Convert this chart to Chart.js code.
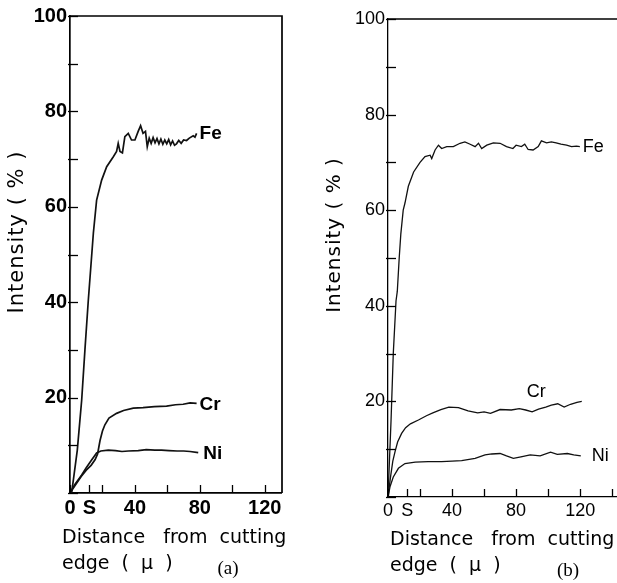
<!DOCTYPE html>
<html>
<head>
<meta charset="utf-8">
<script src="https://cdn.jsdelivr.net/npm/chart.js@4.4.0/dist/chart.umd.min.js"></script>
<style>
    html, body { margin: 0; padding: 0; background: #fff; overflow: hidden; width: 617px; height: 583px; position: relative; }
    canvas { position: absolute; top: 0; }
    #chartA { left: 0; }
    #chartB { left: 310px; }
</style>
</head>
<body>
<canvas id="chartA" width="300" height="583"></canvas>
<canvas id="chartB" width="330" height="583"></canvas>
<script>
// Panel (a) data - distance (micron) / intensity (%)
const feDistA = [1, 4.5, 7.2, 9.2, 11.3, 14.4, 16.4, 19.5, 22.6, 26.7, 28.7, 29.7, 30.8, 32.3, 33.8, 35.9, 37.9, 40, 42, 43.5, 45, 46.5, 47.6, 48.8, 50, 51.2, 52.4, 53.6, 54.8, 56, 57.2, 58.4, 59.6, 60.8, 62, 63.2, 64.4, 65.6, 67, 68.5, 70, 71.8, 73.5, 75.9, 77, 78];
const feIntA = [0, 9, 19.5, 30, 40.5, 54.5, 61.4, 65.6, 68.4, 70.5, 71.6, 73.3, 71.6, 71.3, 74.7, 75.4, 74, 74, 75.8, 77, 75.4, 75.8, 72.6, 74.4, 73.3, 74.5, 73.4, 74.3, 73.2, 74.2, 73.1, 74.0, 73.2, 74.1, 73.0, 73.8, 72.9, 73.2, 73.9, 73.3, 74, 73.9, 74.4, 74.9, 74.6, 75.4];
const crDistA = [0, 3, 7, 10, 13, 15.5, 17, 18.5, 20, 21.5, 24, 28.7, 33, 39, 45, 52, 59.5, 65, 69.7, 74, 78];
const crIntA = [0, 1.5, 3.5, 4.8, 5.8, 7, 8.2, 11, 13, 14.3, 15.7, 16.7, 17.3, 17.8, 17.9, 18.1, 18.2, 18.5, 18.6, 18.9, 18.8];
const niDistA = [0, 3, 7.2, 10, 13.3, 16.4, 19, 23.6, 28, 32, 36, 42, 47, 52.3, 56.4, 61, 66, 70, 74, 79];
const niIntA = [0, 1.8, 3.8, 5.3, 6.9, 8.4, 8.8, 9.0, 8.9, 8.7, 8.8, 8.9, 9.1, 9.0, 9.0, 8.9, 8.8, 8.8, 8.7, 8.45];

// Panel (b) data
const feDistB = [0, 1.9, 3.3, 5, 5.8, 7, 8, 9.5, 10.6, 12.7, 16, 20, 23.1, 26.3, 27.3, 29.4, 31.5, 33.5, 36.7, 40.8, 45, 48, 51.3, 54.4, 56.5, 58.5, 61.7, 65.8, 70, 74, 78, 80, 83.3, 85.4, 87.5, 90.6, 93.8, 95.8, 99, 102, 105, 108, 111.5, 114.6, 117.7, 119.8];
const feIntB = [0, 16, 30, 41, 43, 50, 55, 60, 61.5, 65, 68, 70, 71.2, 71.5, 70.8, 72.6, 73.6, 72.9, 73.3, 73.3, 74, 74.3, 73.8, 73.3, 74, 72.9, 73.6, 74.1, 74, 73.3, 72.9, 73.6, 73.3, 73.8, 72.7, 72.6, 73.3, 74.5, 74.1, 74.3, 74.1, 73.8, 73.6, 73.3, 73.4, 73.3];
const crDistB = [0, 1.5, 3, 4.4, 6, 8.5, 11, 14, 19, 24, 28, 33, 38, 44, 50, 56, 60, 64, 70, 77, 82, 86, 90, 94, 98.5, 102, 106, 110, 114, 118, 121];
const crIntB = [0, 4, 7.5, 9.5, 11.5, 13.3, 14.5, 15.3, 16.1, 17, 17.6, 18.3, 18.8, 18.7, 18, 17.6, 17.8, 17.5, 18.3, 18.2, 18.5, 18.2, 17.8, 18.4, 18.8, 19.2, 19.5, 18.8, 19.4, 19.8, 20];
const niDistB = [0, 1.3, 3.3, 6.5, 10.6, 17, 25, 33.5, 40, 46, 54.4, 60.6, 64.8, 70, 74, 78.3, 83, 88.8, 95, 101.5, 105.7, 112, 116, 120.4];
const niIntB = [0, 2.2, 4.2, 6, 7, 7.3, 7.4, 7.4, 7.5, 7.6, 8.1, 8.8, 9.0, 9.1, 8.6, 8.1, 8.4, 8.8, 8.6, 9.4, 8.9, 9.1, 8.8, 8.6];

// Axis ticks
const yTickValues = [0, 10, 20, 30, 40, 50, 60, 70, 80, 90, 100];
const yTickLabels = ['', '', '20', '', '40', '', '60', '', '80', '', '100'];
const xTickValuesA = [0, 12, 20, 40, 60, 80, 100, 120];
const xTickLabelsA = ['0', 'S', '', '40', '', '80', '', '120'];
const xTickValuesB = [0, 12, 20, 40, 60, 80, 100, 120, 140];
const xTickLabelsB = ['0', 'S', '', '40', '', '80', '', '120', ''];

const toPoints = (d, v) => d.map((x, i) => ({ x: x, y: v[i] }));

// Draws the frame, inner tick marks, series names and axis titles
const panelDecor = {
    id: 'panelDecor',
    afterDraw(chart, args, opts) {
        const { ctx, chartArea: a, scales: { x, y } } = chart;
        ctx.save();
        ctx.strokeStyle = '#000';
        ctx.lineWidth = opts.frameWidth;
        ctx.beginPath();
        ctx.moveTo(a.left, a.top);
        ctx.lineTo(a.right + 1, a.top);
        if (opts.rightBorder) ctx.lineTo(a.right + 1, a.bottom);
        ctx.stroke();

        ctx.lineWidth = 1.3;
        y.ticks.forEach(t => {
            const py = Math.round(y.getPixelForValue(t.value)) + 0.5;
            ctx.beginPath(); ctx.moveTo(a.left - 2, py); ctx.lineTo(a.left + 8, py); ctx.stroke();
        });
        x.ticks.forEach(t => {
            const px = Math.round(x.getPixelForValue(t.value)) + 0.5;
            ctx.beginPath(); ctx.moveTo(px, a.bottom); ctx.lineTo(px, a.bottom - 8); ctx.stroke();
        });

        // series names next to the curves
        ctx.fillStyle = '#000';
        ctx.font = opts.labelFont;
        ctx.textBaseline = 'middle';
        ctx.textAlign = 'left';
        chart.data.datasets.forEach((ds, i) => {
            const pts = chart.getDatasetMeta(i).data;
            const last = pts[pts.length - 1];
            const off = opts.labelOffsets[i];
            ctx.fillText(ds.label, last.x + off[0], last.y + off[1]);
        });

        // y title
        ctx.font = opts.titleFont;
        ctx.letterSpacing = '1px';
        ctx.save();
        ctx.translate(opts.yTitle[0], opts.yTitle[1]);
        ctx.rotate(-Math.PI / 2);
        ctx.textAlign = 'center';
        ctx.fillText('Intensity ( % )', 0, 0);
        ctx.restore();

        // x title
        ctx.letterSpacing = '0px';
        ctx.font = opts.xTitleFont;
        ctx.textAlign = 'left';
        ctx.fillText('Distance   from  cutting', opts.xTitle[0], opts.xTitle[1]);
        ctx.fillText('edge  (  \u03bc  )', opts.xTitle[0], opts.xTitle[1] + 26);

        ctx.font = '19px "Liberation Serif"';
        ctx.textAlign = 'center';
        ctx.fillText(opts.panel, opts.panelPos[0], opts.panelPos[1]);
        ctx.restore();
    }
};

function makeChart(id, cfg) {
    const ctx = document.getElementById(id).getContext('2d');
    return new Chart(ctx, {
        type: 'line',
        data: {
            datasets: cfg.series.map(s => ({
                label: s.name,
                data: toPoints(s.d, s.v),
                borderColor: '#111',
                borderWidth: cfg.lineWidth,
                pointRadius: 0,
                tension: 0,
                fill: false
            }))
        },
        options: {
            responsive: false,
            animation: false,
            layout: { padding: cfg.padding },
            plugins: {
                legend: { display: false },
                tooltip: { enabled: false },
                panelDecor: cfg.decor
            },
            scales: {
                x: {
                    type: 'linear',
                    min: 0,
                    max: cfg.xMax,
                    afterFit: s => { s.height = cfg.xHeight; },
                    afterBuildTicks: s => { s.ticks = cfg.xTicks.map(v => ({ value: v })); },
                    ticks: {
                        autoSkip: false,
                        maxRotation: 0,
                        padding: 3,
                        color: '#000',
                        font: cfg.tickFont,
                        callback: (v, i) => cfg.xLabels[i]
                    },
                    grid: { drawOnChartArea: false, drawTicks: false },
                    border: { color: '#000', width: cfg.frameWidth }
                },
                y: {
                    min: 0,
                    max: 100,
                    afterFit: s => { s.width = cfg.yWidth; },
                    afterBuildTicks: s => { s.ticks = yTickValues.map(v => ({ value: v })); },
                    ticks: {
                        autoSkip: false,
                        padding: 3,
                        color: '#000',
                        font: cfg.tickFont,
                        callback: (v, i) => yTickLabels[i]
                    },
                    grid: { drawOnChartArea: false, drawTicks: false },
                    border: { color: '#000', width: cfg.frameWidth }
                }
            }
        },
        plugins: [panelDecor]
    });
}

makeChart('chartA', {
    series: [
        { name: 'Fe', d: feDistA, v: feIntA },
        { name: 'Cr', d: crDistA, v: crIntA },
        { name: 'Ni', d: niDistA, v: niIntA }
    ],
    lineWidth: 1.7,
    frameWidth: 1.7,
    xMax: 130,
    padding: { top: 16, right: 19, left: 0, bottom: 0 },
    xHeight: 90,
    yWidth: 70,
    xTicks: xTickValuesA,
    xLabels: xTickLabelsA,
    tickFont: { family: 'Liberation Sans', size: 20, weight: 'bold' },
    decor: {
        frameWidth: 1.7,
        rightBorder: true,
        labelFont: 'bold 19px "Liberation Sans"',
        labelOffsets: [[3, 0], [3, 1], [5, 1]],
        titleFont: '21px "DejaVu Sans"',
        xTitleFont: '19px "DejaVu Sans"',
        yTitle: [18, 232],
        xTitle: [62, 538],
        panel: '(a)',
        panelPos: [228, 569]
    }
});

makeChart('chartB', {
    series: [
        { name: 'Fe', d: feDistB, v: feIntB },
        { name: 'Cr', d: crDistB, v: crIntB },
        { name: 'Ni', d: niDistB, v: niIntB }
    ],
    lineWidth: 1.3,
    frameWidth: 1.3,
    xMax: 143,
    padding: { top: 19, right: 23, left: 0, bottom: 0 },
    xHeight: 86,
    yWidth: 78,
    xTicks: xTickValuesB,
    xLabels: xTickLabelsB,
    tickFont: { family: 'Liberation Sans', size: 18 },
    decor: {
        frameWidth: 1.3,
        rightBorder: false,
        labelFont: '18px "Liberation Sans"',
        labelOffsets: [[3, 0], [-55, -9], [11, 0]],
        titleFont: '20px "DejaVu Sans"',
        xTitleFont: '19px "DejaVu Sans"',
        yTitle: [25, 235],
        xTitle: [80, 540],
        panel: '(b)',
        panelPos: [258, 571]
    }
});
</script>
</body>
</html>
